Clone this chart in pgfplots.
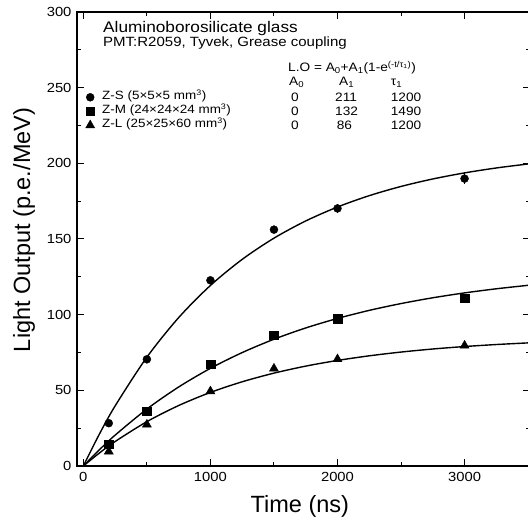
\documentclass[border=0pt]{standalone}
\usepackage{fontspec}
\setmainfont{Liberation Sans}
\newfontfamily\wfont[FakeStretch=1.12]{Liberation Sans}
\usepackage{pgfplots}
\usepackage{pgfplotstable}
\pgfplotsset{compat=1.18}

\pgfplotstableread{
t lo
0 0
125 20.87
250 39.69
500 71.91
750 98.05
1000 119.30
1250 136.54
1500 150.55
1750 161.92
2000 171.14
2250 178.64
2500 184.73
2750 189.67
3000 193.68
3250 196.94
3500 199.58
3520 199.8
}\fitS
\pgfplotstableread{
t lo
0 0
125 10.62
250 20.39
500 37.64
750 52.21
1000 64.53
1250 74.95
1500 83.77
1750 91.22
2000 97.51
2250 102.84
2500 107.34
2750 111.16
3000 114.38
3250 117.10
3500 119.40
3520 119.6
}\fitM
\pgfplotstableread{
t lo
0 0
125 8.51
250 16.18
500 29.31
750 39.96
1000 48.62
1250 55.65
1500 61.36
1750 66.00
2000 69.75
2250 72.81
2500 75.29
2750 77.31
3000 78.94
3250 80.27
3500 81.35
3520 81.43
}\fitL
\pgfplotstableread{
t lo err
200 28.3 1.5
500 70.5 1.5
1000 122.7 2
1500 156.2 2.5
2000 170.2 3
3000 189.9 3.5
}\dataS
\pgfplotstableread{
t lo
200 14.4
500 36.1
1000 67.2
1500 86.5
2000 97.3
3000 110.8
}\dataM
\pgfplotstableread{
t lo
200 9.6
500 27.4
1000 49.4
1500 64.4
2000 70.6
3000 79.6
}\dataL

\newcommand\smallfont{\wfont\fontsize{12}{14}\selectfont}
\newcommand\tabfont{\wfont\fontsize{12.2}{14}\selectfont}

\begin{document}
\begin{tikzpicture}
\begin{axis}[
  scale only axis, width=453pt, height=454pt,
  xmin=-50, xmax=3515, ymin=0, ymax=300,
  xtick={0,1000,2000,3000}, minor xtick={500,1500,2500},
  ytick={0,50,...,300}, minor ytick={25,75,...,275},
  tick align=inside, major tick length=7pt, minor tick length=4pt,
  axis line style={line width=1.3pt},
  every tick/.style={line width=1pt, black},
  /pgf/number format/assume math mode=true,
  /pgf/number format/set thousands separator={},
  tick label style={font=\wfont\fontsize{13.2}{15}\selectfont},
  xticklabel style={yshift=-3pt},
  yticklabel style={xshift=-2pt},
  xlabel={Time (ns)},
  ylabel={Light Output (p.e./MeV)},
  label style={font=\fontsize{23.5}{26}\selectfont},
  xlabel style={at={(rel axis cs:0.492,0)}, anchor=base, yshift=-46pt},
  ylabel style={at={(rel axis cs:-0.117,0.52)}, anchor=center},
  legend cell align=left,
  legend image code/.code={\draw[#1] plot coordinates {(0pt,0pt)};},
  legend style={draw=none, fill=none, at={(0.0188,0.828)}, anchor=north west,
    inner sep=0pt, row sep=0pt, font=\smallfont,
    nodes={inner xsep=7.5pt, inner ysep=0pt, text height=9.5pt, text depth=4.5pt}},
]
\addplot[only marks, mark=*, mark size=4pt, black,
  error bars/.cd, y dir=both, y explicit,
  error bar style={line width=1pt}, error mark=none]
  table[x=t, y=lo, y error=err] {\dataS};
\addlegendentry{Z-S (5×5×5 mm\textsuperscript{3})}
\addplot[only marks, mark=square*, mark size=4.3pt, black] table[x=t, y=lo] {\dataM};
\addlegendentry{Z-M (24×24×24 mm\textsuperscript{3})}
\addplot[only marks, mark=triangle*, mark size=5.2pt, black] table[x=t, y=lo] {\dataL};
\addlegendentry{Z-L (25×25×60 mm\textsuperscript{3})}
\addplot[black, line width=1.4pt, smooth, no marks, forget plot] table[x=t, y=lo] {\fitS};
\addplot[black, line width=1.4pt, smooth, no marks, forget plot] table[x=t, y=lo] {\fitM};
\addplot[black, line width=1.4pt, smooth, no marks, forget plot] table[x=t, y=lo] {\fitL};
\end{axis}
% annotations (pixel -> pt: x-77, 466-y)
\node[anchor=base west, inner sep=0pt, font=\wfont\fontsize{15.4}{17}\selectfont] at (26pt,433pt) {Aluminoborosilicate glass};
\node[anchor=base west, inner sep=0pt, font=\wfont\fontsize{13.4}{15}\selectfont] at (26pt,419pt) {PMT:R2059, Tyvek, Grease coupling};
\node[anchor=base west, inner sep=0pt, font=\tabfont] at (211pt,394pt) {L.O = A\textsubscript{0}+A\textsubscript{1}(1-e\textsuperscript{(-t/τ\textsubscript{1})})};
\node[anchor=base west, inner sep=0pt, font=\tabfont] at (212pt,380pt) {A\textsubscript{0}};
\node[anchor=base west, inner sep=0pt, font=\tabfont] at (262pt,380pt) {A\textsubscript{1}};
\node[anchor=base west, inner sep=0pt, font=\tabfont] at (313.7pt,380pt) {τ\textsubscript{1}};
\node[anchor=base west, inner sep=0pt, font=\tabfont] at (214pt,364.5pt) {0};
\node[anchor=base west, inner sep=0pt, font=\tabfont] at (214pt,350.5pt) {0};
\node[anchor=base west, inner sep=0pt, font=\tabfont] at (214pt,336.5pt) {0};
\node[anchor=base west, inner sep=0pt, font=\tabfont] at (258pt,364.5pt) {211};
\node[anchor=base west, inner sep=0pt, font=\tabfont] at (258pt,350.5pt) {132};
\node[anchor=base west, inner sep=0pt, font=\tabfont] at (259.7pt,336.5pt) {86};
\node[anchor=base west, inner sep=0pt, font=\tabfont] at (313.7pt,364.5pt) {1200};
\node[anchor=base west, inner sep=0pt, font=\tabfont] at (313.7pt,350.5pt) {1490};
\node[anchor=base west, inner sep=0pt, font=\tabfont] at (313.7pt,336.5pt) {1200};
\pgfresetboundingbox
\path[use as bounding box] (-77pt,-51pt) rectangle (451pt,466pt);
\end{tikzpicture}
\end{document}
